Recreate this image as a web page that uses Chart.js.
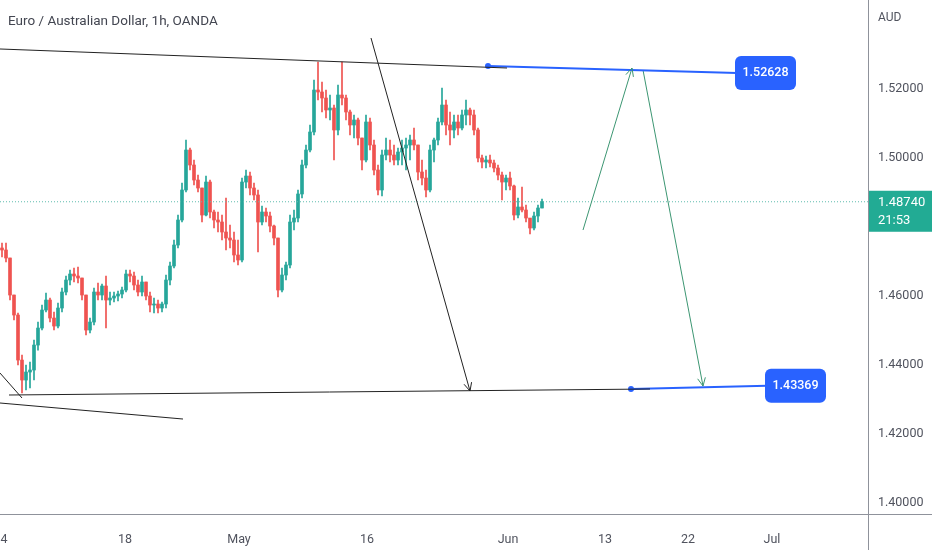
<!DOCTYPE html>
<html>
<head>
<meta charset="utf-8">
<script src="https://cdn.jsdelivr.net/npm/chart.js@4.4.1/dist/chart.umd.min.js"></script>
<style>
  html, body { margin: 0; padding: 0; background: #ffffff; }
  #wrap { width: 932px; height: 550px; position: relative; }
</style>
</head>
<body>
<div id="wrap"><canvas id="priceChart"></canvas></div>
<script>
// EUR/AUD candles (one candle ~ 8 hours), prices in AUD
const firstOpen = 1.47400;
const closes = [
  1.47342, 1.47110, 1.46037, 1.45457, 1.44152, 1.43573, 1.43805, 1.43863, 1.44587, 1.45080,
  1.45602, 1.45892, 1.45370, 1.45138, 1.45660, 1.46124, 1.46472, 1.46646, 1.46588, 1.46530,
  1.46037, 1.45022, 1.45254, 1.46124, 1.46037, 1.46298, 1.45892, 1.45950, 1.46008, 1.46066,
  1.46182, 1.46646, 1.46588, 1.46327, 1.46124, 1.46414, 1.46008, 1.45747, 1.45776, 1.45660,
  1.45776, 1.46472, 1.46878, 1.47486, 1.48211, 1.49081, 1.50240, 1.49805, 1.49370, 1.49139,
  1.48356, 1.49312, 1.48443, 1.48211, 1.48153, 1.47863, 1.47689, 1.47631, 1.47197, 1.47052,
  1.49312, 1.49486, 1.49139, 1.48936, 1.48153, 1.48443, 1.48327, 1.48037, 1.47689, 1.46182,
  1.46617, 1.46907, 1.48153, 1.48269, 1.48965, 1.49805, 1.50240, 1.50762, 1.51979, 1.51921,
  1.51747, 1.51400, 1.51457, 1.50820, 1.51834, 1.51747, 1.51342, 1.50965, 1.51110, 1.50588,
  1.49950, 1.51052, 1.50385, 1.49660, 1.49081, 1.50095, 1.50240, 1.50095, 1.49950, 1.50182,
  1.50298, 1.50385, 1.50530, 1.50385, 1.49602, 1.49428, 1.49081, 1.50240, 1.50530, 1.51052,
  1.51544, 1.50965, 1.50820, 1.51052, 1.50878, 1.51255, 1.51400, 1.51255, 1.50820, 1.50008,
  1.49892, 1.49950, 1.49863, 1.49718, 1.49515, 1.49312, 1.49428, 1.49197, 1.48356, 1.48588,
  1.48501, 1.48269, 1.47979, 1.48327, 1.48559, 1.48740
];
const highs = [
  1.47544, 1.47544, 1.47110, 1.46037, 1.45515, 1.44297, 1.44008, 1.44095, 1.44732, 1.45254,
  1.45747, 1.46095, 1.45950, 1.45544, 1.45805, 1.46240, 1.46588, 1.46762, 1.46820, 1.46849,
  1.46530, 1.46037, 1.45370, 1.46240, 1.46385, 1.46356, 1.46588, 1.46124, 1.46124, 1.46153,
  1.46269, 1.46762, 1.46762, 1.46704, 1.46472, 1.46588, 1.46414, 1.46124, 1.45950, 1.45892,
  1.45834, 1.46617, 1.46994, 1.47631, 1.48356, 1.49283, 1.50530, 1.50298, 1.49950, 1.49515,
  1.49139, 1.49486, 1.49370, 1.48501, 1.48443, 1.48356, 1.48849, 1.48066, 1.47863, 1.47631,
  1.49428, 1.49660, 1.49602, 1.49283, 1.49081, 1.48617, 1.48559, 1.48443, 1.48066, 1.47689,
  1.46820, 1.46994, 1.48356, 1.48501, 1.49081, 1.49950, 1.50385, 1.50965, 1.52269, 1.52791,
  1.52211, 1.51979, 1.51834, 1.51544, 1.52124, 1.52791, 1.51834, 1.51400, 1.51255, 1.51168,
  1.50588, 1.51255, 1.51168, 1.50530, 1.49805, 1.50240, 1.50588, 1.50530, 1.50385, 1.50298,
  1.50530, 1.50588, 1.50675, 1.50878, 1.50385, 1.49950, 1.49660, 1.50385, 1.50588, 1.51168,
  1.52037, 1.51689, 1.51342, 1.51255, 1.51255, 1.51400, 1.51689, 1.51457, 1.51400, 1.50878,
  1.50095, 1.50066, 1.50095, 1.49950, 1.49805, 1.49602, 1.49515, 1.49602, 1.49226, 1.48849,
  1.49168, 1.48646, 1.48211, 1.48443, 1.48646, 1.48820
];
const lows = [
  1.47139, 1.46994, 1.45892, 1.45312, 1.44008, 1.43196, 1.43283, 1.43341, 1.43573, 1.44442,
  1.45022, 1.45544, 1.45254, 1.45022, 1.45080, 1.45544, 1.46037, 1.46327, 1.46414, 1.46385,
  1.45892, 1.44877, 1.44935, 1.45167, 1.45892, 1.45892, 1.45080, 1.45747, 1.45834, 1.45863,
  1.45950, 1.46124, 1.46414, 1.46182, 1.46008, 1.46008, 1.45892, 1.45544, 1.45515, 1.45515,
  1.45544, 1.45660, 1.46327, 1.46820, 1.47400, 1.48153, 1.49023, 1.49660, 1.49226, 1.49023,
  1.48153, 1.48327, 1.48269, 1.47979, 1.47863, 1.47631, 1.47342, 1.47400, 1.46994, 1.46907,
  1.46994, 1.49139, 1.48936, 1.48791, 1.47284, 1.48066, 1.48153, 1.47863, 1.47486, 1.45979,
  1.46124, 1.46472, 1.46820, 1.47921, 1.48153, 1.48849, 1.49718, 1.50182, 1.50675, 1.51689,
  1.51342, 1.51168, 1.51110, 1.49950, 1.50675, 1.51544, 1.51110, 1.50675, 1.50588, 1.50385,
  1.49660, 1.49892, 1.50240, 1.49515, 1.48936, 1.48907, 1.49950, 1.49892, 1.49805, 1.49805,
  1.49805, 1.49660, 1.49950, 1.50240, 1.49370, 1.49226, 1.48878, 1.49023, 1.49892, 1.50385,
  1.50965, 1.50675, 1.50385, 1.50588, 1.50675, 1.50820, 1.50965, 1.50965, 1.50675, 1.49892,
  1.49718, 1.49718, 1.49747, 1.49602, 1.49370, 1.48791, 1.49081, 1.49081, 1.48211, 1.48269,
  1.48443, 1.48153, 1.47805, 1.47921, 1.48153, 1.48559
];

// axis ticks
const yTicks = [1.40, 1.42, 1.44, 1.46, 1.48, 1.50, 1.52];
const xTickPos = [0.5, 30.75, 59.25, 91.25, 126.5, 150.75, 171.5, 192.5];
const xTickLabels = ['4', '18', 'May', '16', 'Jun', '13', '22', 'Jul'];

// drawings on the chart, in (candle index, price)
const resistanceLine = [{ x: -0.5, y: 1.53168 }, { x: 126.25, y: 1.52617 }];
const resistanceTag = [{ x: 121.5, y: 1.52675 }, { x: 183.75, y: 1.52472 }];
const supportLine = [{ x: 1.75, y: 1.43139 }, { x: 162, y: 1.43313 }];
const supportTag = [{ x: 157.25, y: 1.43313 }, { x: 191.25, y: 1.43408 }];
const leftDiagonal = [{ x: -0.5, y: 1.43776 }, { x: 5, y: 1.43052 }];
const lowerLine = [{ x: -0.5, y: 1.42907 }, { x: 45.25, y: 1.42443 }];
const dropArrow = [{ x: 92.25, y: 1.53487 }, { x: 117, y: 1.43255 }];
const upLeg = [{ x: 145.25, y: 1.47921 }, { x: 157.5, y: 1.52617 }];
const downLeg = [{ x: 160.25, y: 1.52559 }, { x: 175.25, y: 1.43399 }];
const lastPrice = 1.48740;
const resistanceText = '1.52628';
const supportText = '1.43369';

const UP = '#26a69a';
const DOWN = '#ef5350';

const opens = closes.map(function(c, i) { return i === 0 ? firstOpen : closes[i - 1]; });
const candleColors = closes.map(function(c, i) { return c >= opens[i] ? UP : DOWN; });
const wickData = closes.map(function(c, i) { return { x: i, y: [lows[i], highs[i]] }; });
const bodyData = closes.map(function(c, i) { return { x: i, y: [opens[i], c] }; });

function lineSet(data, color, width, extra) {
  return Object.assign({
    type: 'line',
    data: data,
    borderColor: color,
    borderWidth: width,
    pointRadius: 0,
    tension: 0,
    fill: false,
    order: 0
  }, extra || {});
}

// Drawing helpers: arrowheads, price tags, axis borders, title
const overlayPlugin = {
  id: 'overlay',
  afterDatasetsDraw(chart) {
    const ctx = chart.ctx;
    chart.data.datasets.forEach(function(ds, i) {
      if (!ds.arrow) return;
      const pts = chart.getDatasetMeta(i).data;
      const a = pts[pts.length - 2], b = pts[pts.length - 1];
      const ang = Math.atan2(b.y - a.y, b.x - a.x);
      ctx.save();
      ctx.strokeStyle = ds.borderColor;
      ctx.lineWidth = 1;
      ctx.beginPath();
      ctx.moveTo(b.x - 9 * Math.cos(ang - 0.45), b.y - 9 * Math.sin(ang - 0.45));
      ctx.lineTo(b.x, b.y);
      ctx.lineTo(b.x - 9 * Math.cos(ang + 0.45), b.y - 9 * Math.sin(ang + 0.45));
      ctx.stroke();
      ctx.restore();
    });
  },
  afterDraw(chart) {
    const ctx = chart.ctx;
    const area = chart.chartArea;
    const xs = chart.scales.x;
    const ys = chart.scales.y;
    ctx.save();

    // axis borders
    ctx.strokeStyle = '#8f929b';
    ctx.lineWidth = 1;
    ctx.beginPath();
    ctx.moveTo(Math.round(area.right) + 0.5, 0);
    ctx.lineTo(Math.round(area.right) + 0.5, chart.height);
    ctx.moveTo(0, Math.round(area.bottom) + 0.5);
    ctx.lineTo(chart.width, Math.round(area.bottom) + 0.5);
    ctx.stroke();

    // blue price tags at the end of the two blue lines
    function tag(pt, text) {
      const x = xs.getPixelForValue(pt.x);
      const y = ys.getPixelForValue(pt.y);
      ctx.fillStyle = '#2962ff';
      ctx.beginPath();
      ctx.roundRect(x - 2, y - 17, 61, 34, 6);
      ctx.fill();
      ctx.fillStyle = '#ffffff';
      ctx.font = '500 12.5px Roboto';
      ctx.textAlign = 'center';
      ctx.textBaseline = 'middle';
      ctx.fillText(text, x + 28.5, y);
    }
    tag(resistanceTag[1], resistanceText);
    tag(supportTag[1], supportText);

    // last price box on the price axis
    const py = ys.getPixelForValue(lastPrice);
    ctx.fillStyle = '#22ab94';
    ctx.fillRect(area.right + 1, py - 11, chart.width - area.right, 41);
    ctx.fillStyle = '#ffffff';
    ctx.font = '13px Roboto';
    ctx.textAlign = 'left';
    ctx.textBaseline = 'middle';
    ctx.fillText(lastPrice.toFixed(5), area.right + 10, py + 1);
    ctx.fillText('21:53', area.right + 10, py + 19);

    // header texts
    ctx.fillStyle = '#434651';
    ctx.font = '13.5px Roboto';
    ctx.fillText('Euro / Australian Dollar, 1h, OANDA', 8, 22);
    ctx.font = '12px Roboto';
    ctx.fillStyle = '#50535e';
    ctx.fillText('AUD', area.right + 10, 18);
    ctx.restore();
  }
};

const ctx = document.getElementById('priceChart').getContext('2d');
const priceChart = new Chart(ctx, {
  type: 'bar',
  data: {
    datasets: [
      lineSet(resistanceLine, '#222222', 1),
      lineSet(resistanceTag, '#2962ff', 2, { pointRadius: [3, 0], pointBackgroundColor: '#2962ff', pointBorderWidth: 0 }),
      lineSet(supportLine, '#222222', 1),
      lineSet(supportTag, '#2962ff', 2, { pointRadius: [3, 0], pointBackgroundColor: '#2962ff', pointBorderWidth: 0 }),
      lineSet(leftDiagonal, '#222222', 1),
      lineSet(lowerLine, '#222222', 1),
      lineSet(dropArrow, '#222222', 1, { arrow: true }),
      lineSet(upLeg, '#3c9672', 1, { arrow: true }),
      lineSet(downLeg, '#3c9672', 1, { arrow: true }),
      lineSet([{ x: -0.5, y: lastPrice }, { x: 216.5, y: lastPrice }], '#5fbcae', 1, { borderDash: [1, 2] }),
      {
        label: 'wicks',
        data: wickData,
        backgroundColor: candleColors,
        barThickness: 1,
        grouped: false,
        order: 10
      },
      {
        label: 'bodies',
        data: bodyData,
        backgroundColor: candleColors,
        barThickness: 3,
        minBarLength: 1,
        grouped: false,
        order: 9
      }
    ]
  },
  options: {
    responsive: true,
    maintainAspectRatio: false,
    animation: false,
    events: [],
    layout: { padding: 0, autoPadding: false },
    plugins: {
      legend: { display: false },
      tooltip: { enabled: false }
    },
    scales: {
      x: {
        type: 'linear',
        min: -0.5,
        max: 216.5,
        offset: false,
        grid: { display: false, offset: false },
        border: { display: false },
        afterBuildTicks: function(scale) {
          scale.ticks = xTickPos.map(function(v) { return { value: v }; });
        },
        afterFit: function(scale) {
          scale.height = 36;
          scale.paddingLeft = 0;
          scale.paddingRight = 0;
        },
        ticks: {
          autoSkip: false,
          maxRotation: 0,
          padding: 10,
          color: '#50535e',
          font: { family: 'Roboto', size: 12.5 },
          callback: function(value, index) { return xTickLabels[index]; }
        }
      },
      y: {
        position: 'right',
        min: 1.3969,
        max: 1.54588,
        grid: { display: false, drawTicks: false },
        border: { display: false },
        afterBuildTicks: function(scale) {
          scale.ticks = yTicks.map(function(v) { return { value: v }; });
        },
        afterFit: function(scale) {
          scale.width = 64;
          scale.paddingTop = 0;
          scale.paddingBottom = 0;
        },
        ticks: {
          padding: 10,
          color: '#50535e',
          font: { family: 'Roboto', size: 12.5 },
          callback: function(value) { return Number(value).toFixed(5); }
        }
      }
    }
  },
  plugins: [overlayPlugin]
});
</script>
</body>
</html>
